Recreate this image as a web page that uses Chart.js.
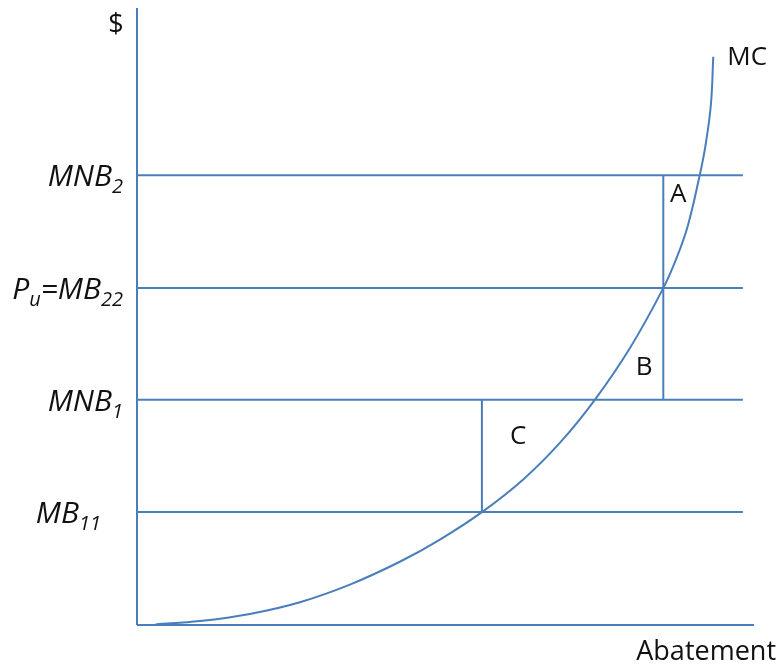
<!DOCTYPE html>
<html lang="en">
<head>
    <meta charset="UTF-8">
    <title>Abatement MC chart</title>
    <script src="https://cdn.jsdelivr.net/npm/chart.js"></script>
    <style>
        body { margin: 0; background: #fff; }
        #wrap { width: 783px; height: 671px; }
    </style>
</head>
<body>
    <div id="wrap"><canvas id="mcChart" width="783" height="671"></canvas></div>
    <script>
        // MC curve (x = abatement, y = $)
        var mcX = [3.0, 10.2, 18.3, 26.4, 34.5, 42.6, 49.1, 55.9, 62.6, 68.6, 74.2, 79.9, 85.3, 87.5, 89.3, 91.2, 92.1, 93.0, 93.4];
        var mcY = [0.1, 0.65, 1.8, 3.7, 6.55, 10.25, 13.85, 18.3, 23.6, 29.6, 36.5, 44.9, 54.6, 59.6, 64.8, 72.9, 77.5, 84.2, 92.1];

        // horizontal levels, bottom to top
        var levelValues = [18.3, 36.5, 54.6, 72.9];
        // label parts: [text, isSubscript]
        var levelLabels = [
            [['MB', 0], ['11', 1]],
            [['MNB', 0], ['1', 1]],
            [['P', 0], ['u', 1], ['=MB', 0], ['22', 1]],
            [['MNB', 0], ['2', 1]]
        ];
        var levelEndX = 98.2;

        // vertical drops: x, from, to
        var dropX = [55.9, 85.3];
        var dropFrom = [18.3, 36.5];
        var dropTo = [36.5, 72.9];

        // area labels
        var areaNames = ['A', 'B', 'C'];
        var areaX = [87.7, 82.2, 61.8];
        var areaY = [69.7, 41.7, 30.5];

        var axisMax = 100;
        var blue = '#4a7ebb';

        function seg(x1, y1, x2, y2) {
            return {
                data: [{ x: x1, y: y1 }, { x: x2, y: y2 }],
                showLine: true, borderColor: blue, borderWidth: 2,
                pointRadius: 0, clip: false
            };
        }

        var datasets = [];
        datasets.push(seg(0, 0, 0, axisMax));
        datasets.push(seg(0, 0, axisMax, 0));
        levelValues.forEach(function (v) { datasets.push(seg(0, v, levelEndX, v)); });
        dropX.forEach(function (x, i) { datasets.push(seg(x, dropFrom[i], x, dropTo[i])); });
        datasets.push({
            label: 'MC',
            data: mcX.map(function (x, i) { return { x: x, y: mcY[i] }; }),
            showLine: true, borderColor: blue, borderWidth: 2,
            pointRadius: 0, tension: 0.4, clip: false
        });

        var textPlugin = {
            id: 'texts',
            afterDatasetsDraw: function (chart) {
                var ctx = chart.ctx;
                var xs = chart.scales.x, ys = chart.scales.y;
                ctx.save();
                ctx.fillStyle = '#111';

                // y level labels (italic, with subscripts)
                var rightEdge = [101, 123, 123, 123];
                levelLabels.forEach(function (parts, i) {
                    var y = ys.getPixelForValue(levelValues[i]);
                    var w = 0;
                    parts.forEach(function (p) {
                        ctx.font = 'italic ' + (p[1] ? 20 : 30) + 'px "Open Sans"';
                        w += ctx.measureText(p[0]).width;
                    });
                    var x = rightEdge[i] - w;
                    ctx.textAlign = 'left';
                    ctx.textBaseline = 'alphabetic';
                    parts.forEach(function (p) {
                        ctx.font = 'italic ' + (p[1] ? 20 : 30) + 'px "Open Sans"';
                        ctx.fillText(p[0], x, y + (p[1] ? 18 : 11));
                        x += ctx.measureText(p[0]).width;
                    });
                });

                ctx.font = '26px "Open Sans"';
                ctx.textAlign = 'center';
                ctx.textBaseline = 'middle';
                areaNames.forEach(function (n, i) {
                    ctx.fillText(n, xs.getPixelForValue(areaX[i]), ys.getPixelForValue(areaY[i]));
                });

                // curve name
                var last = mcX.length - 1;
                ctx.textAlign = 'left';
                ctx.fillText('MC', xs.getPixelForValue(mcX[last]) + 14, ys.getPixelForValue(mcY[last]) + 1);

                // axis titles
                ctx.font = '27px "Open Sans"';
                ctx.textAlign = 'center';
                ctx.fillText('$', xs.getPixelForValue(0) - 21, ys.getPixelForValue(axisMax) + 17);
                ctx.textAlign = 'right';
                ctx.fillText('Abatement', xs.getPixelForValue(axisMax) + 22, ys.getPixelForValue(0) + 27);
                ctx.restore();
            }
        };

        var mcChart = new Chart(document.getElementById('mcChart'), {
            type: 'scatter',
            data: { datasets: datasets },
            options: {
                responsive: false,
                animation: false,
                layout: { padding: { left: 137, top: 8, right: 29, bottom: 46 } },
                plugins: { legend: { display: false }, tooltip: { enabled: false } },
                scales: {
                    x: { type: 'linear', min: 0, max: axisMax, display: false },
                    y: { type: 'linear', min: 0, max: axisMax, display: false }
                }
            },
            plugins: [textPlugin]
        });
    </script>
</body>
</html>
